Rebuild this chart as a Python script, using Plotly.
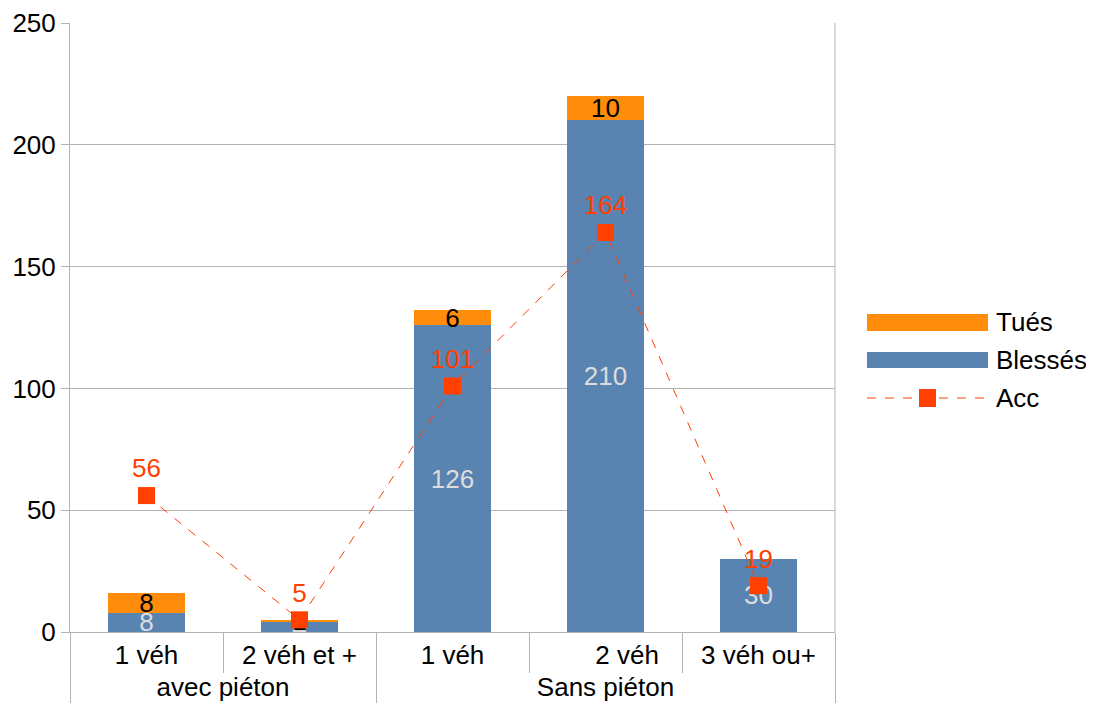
import plotly.graph_objects as go

groups = ["avec piéton", "avec piéton", "Sans piéton", "Sans piéton", "Sans piéton"]
categories = ["1 véh", "2 véh et +", "1 véh", "\u00a0" * 6 + "2 véh", "3 véh ou+"]
blesses = [8, 4, 126, 210, 30]
tues = [8, 1, 6, 10, 0]
acc = [56, 5, 101, 164, 19]
legend_names = ["Tués", "Blessés", "Acc"]

FONT = "Liberation Sans, Arial, sans-serif"
FS = 26
C_BLESSES = "#5983b0"
C_TUES = "#ff8c0a"
C_ACC = "#ff4000"
GRID = "#b3b3b3"

x = [groups, categories]

fig = go.Figure()
fig.add_trace(go.Bar(
    x=x, y=blesses, name="Blessés", marker=dict(color=C_BLESSES, line=dict(width=0)),
    text=[str(v) if v else "" for v in blesses], textposition="inside", textangle=0,
    insidetextanchor="middle", constraintext="none",
    textfont=dict(color="#dddddd", size=FS, family=FONT), showlegend=False,
))
fig.add_trace(go.Bar(
    x=x, y=tues, name="Tués", marker=dict(color=C_TUES, line=dict(width=0)),
    text=[str(v) if v else "" for v in tues], textposition="inside", textangle=0,
    insidetextanchor="middle", constraintext="none",
    textfont=dict(color="#000000", size=FS, family=FONT), showlegend=False,
))
fig.add_trace(go.Scatter(
    x=x, y=acc, name="Acc", mode="lines+markers+text",
    line=dict(color=C_ACC, width=1, dash="dash"),
    marker=dict(symbol="square", size=17, color=C_ACC),
    text=[str(v) for v in acc], textposition="top center",
    textfont=dict(color=C_ACC, size=FS, family=FONT), showlegend=False,
))

# page body has an 8px margin: figure is 1078x695 so the page is exactly 1094x711
fig.update_layout(
    width=1078, height=695,
    barmode="stack", bargap=0.5,
    plot_bgcolor="white", paper_bgcolor="white",
    font=dict(family=FONT, size=FS, color="#000000"),
    margin=dict(l=62, r=251, t=15, b=71),
    uniformtext=dict(mode="show", minsize=FS),
    showlegend=False,
)
fig.update_yaxes(
    range=[0, 250], dtick=50, showgrid=True, gridcolor=GRID, gridwidth=1,
    showline=True, linecolor=GRID, ticks="outside", ticklen=8,
    tickcolor=GRID, tickfont=dict(size=FS, family=FONT), zeroline=False,
    automargin=False,
)
fig.update_xaxes(
    showline=True, linecolor=GRID, ticks="outside", tickson="boundaries",
    ticklen=40, tickcolor=GRID, showdividers=True, dividercolor=GRID,
    dividerwidth=1, tickfont=dict(size=FS, family=FONT), automargin=False,
)
fig.add_shape(type="line", xref="paper", yref="paper", x0=1, x1=1, y0=0, y1=1,
              line=dict(color=GRID, width=1))

# custom legend (wide swatches like the reference)
lx0, lx1 = 1.0418, 1.2
fig.add_shape(type="rect", xref="paper", yref="paper", x0=lx0, x1=lx1, y0=0.4943, y1=0.5222,
              fillcolor=C_TUES, line=dict(width=0))
fig.add_shape(type="rect", xref="paper", yref="paper", x0=lx0, x1=lx1, y0=0.4335, y1=0.4598,
              fillcolor=C_BLESSES, line=dict(width=0))
fig.add_shape(type="line", xref="paper", yref="paper", x0=lx0, x1=lx1, y0=0.3842, y1=0.3842,
              line=dict(color=C_ACC, width=1, dash="dash"))
fig.add_shape(type="rect", xref="paper", yref="paper", x0=1.1098, x1=1.1320, y0=0.3695, y1=0.399,
              fillcolor=C_ACC, line=dict(width=0))
for name, yy in zip(legend_names, [0.509, 0.4466, 0.3842]):
    fig.add_annotation(text=name, xref="paper", yref="paper", x=1.2078, y=yy,
                       xanchor="left", yanchor="middle", showarrow=False,
                       font=dict(size=FS, family=FONT, color="#000000"))

fig.write_html("out.html")
